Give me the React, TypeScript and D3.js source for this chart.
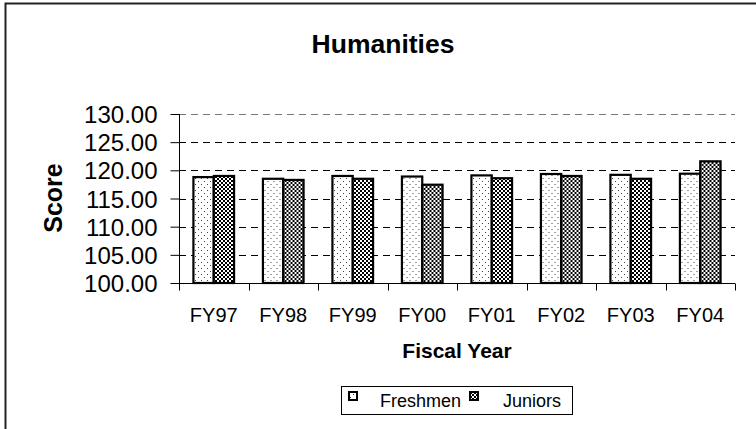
import * as d3 from 'd3';
import React, { useRef, useEffect } from 'react';

const years = ['FY97', 'FY98', 'FY99', 'FY00', 'FY01', 'FY02', 'FY03', 'FY04'];
const freshmen = [118.8, 118.5, 119.0, 118.9, 119.1, 119.35, 119.2, 119.4];
const juniors = [119.0, 118.3, 118.5, 117.45, 118.6, 119.0, 118.5, 121.6];
const seriesNames = ['Freshmen', 'Juniors'];
const yTicks = [100, 105, 110, 115, 120, 125, 130];

const FONT = 'Liberation Sans, Arial, sans-serif';

function Chart({ width, height }) {
  const ref = useRef(null);

  useEffect(() => {
    draw();
  }, []);

  const draw = () => {
    const svg = d3.select(ref.current);
    svg.selectAll('*').remove();

    const left = 179;
    const right = 735;
    const top = 114;
    const bottom = 283;

    // patterns
    const defs = svg.append('defs');
    const dots = defs
      .append('pattern')
      .attr('id', 'pat-fresh')
      .attr('patternUnits', 'userSpaceOnUse')
      .attr('width', 6)
      .attr('height', 6);
    dots.append('rect').attr('width', 6).attr('height', 6).attr('fill', '#fff');
    dots.append('rect').attr('x', 1).attr('y', 1).attr('width', 1).attr('height', 1).attr('fill', '#444');
    dots.append('rect').attr('x', 4).attr('y', 4).attr('width', 1).attr('height', 1).attr('fill', '#444');

    const check = defs
      .append('pattern')
      .attr('id', 'pat-jun')
      .attr('patternUnits', 'userSpaceOnUse')
      .attr('width', 4)
      .attr('height', 4);
    check.append('rect').attr('width', 4).attr('height', 4).attr('fill', '#fff');
    check.append('rect').attr('width', 2).attr('height', 2).attr('fill', '#000');
    check.append('rect').attr('x', 2).attr('y', 2).attr('width', 2).attr('height', 2).attr('fill', '#000');

    const fills = ['url(#pat-fresh)', 'url(#pat-jun)'];

    // outer frame (clipped on the right and bottom)
    svg
      .append('rect')
      .attr('x', 5.5)
      .attr('y', 3.5)
      .attr('width', 800)
      .attr('height', 500)
      .attr('fill', 'none')
      .attr('stroke', '#222')
      .attr('stroke-width', 2);

    const xScale = d3.scaleBand().domain(years).range([left, right]).padding(0);
    const yScale = d3.scaleLinear().domain([100, 130]).range([bottom, top]);

    const groupW = xScale.bandwidth() * 0.585;
    const xSub = d3
      .scaleBand()
      .domain(seriesNames)
      .range([(xScale.bandwidth() - groupW) / 2, (xScale.bandwidth() + groupW) / 2]);

    // gridlines
    svg
      .append('g')
      .selectAll('line')
      .data(yTicks.filter(t => t > 100))
      .enter()
      .append('line')
      .attr('x1', left)
      .attr('x2', right)
      .attr('y1', d => Math.round(yScale(d)) + 0.5)
      .attr('y2', d => Math.round(yScale(d)) + 0.5)
      .attr('stroke', d => (d === 130 ? '#777' : '#000'))
      .attr('stroke-dasharray', '7,5');

    // bars
    const data = years.map((y, i) => ({ year: y, values: [freshmen[i], juniors[i]] }));
    const groups = svg
      .append('g')
      .selectAll('g')
      .data(data)
      .enter()
      .append('g')
      .attr('transform', d => `translate(${xScale(d.year)},0)`);

    groups
      .selectAll('rect')
      .data(d => d.values.map((v, k) => ({ name: seriesNames[k], v, k })))
      .enter()
      .append('rect')
      .attr('x', d => xSub(d.name))
      .attr('width', xSub.bandwidth())
      .attr('y', d => yScale(d.v))
      .attr('height', d => bottom - yScale(d.v))
      .attr('fill', d => fills[d.k])
      .attr('stroke', '#000')
      .attr('stroke-width', 2.2);

    // y axis
    const yAxis = d3.axisLeft(yScale).tickValues(yTicks).tickSize(9).tickFormat(d3.format('.2f'));
    const gy = svg
      .append('g')
      .attr('transform', `translate(${left + 0.5},0)`)
      .call(yAxis);
    gy.select('.domain').remove();
    gy.append('line').attr('y1', top).attr('y2', bottom + 7).attr('stroke', '#000');
    gy.selectAll('.tick line').attr('stroke', '#000');
    gy.selectAll('.tick text')
      .attr('x', -22)
      .attr('dy', '0.36em')
      .attr('fill', '#000')
      .style('font-family', FONT)
      .style('font-size', '24px');

    // x axis
    const xAxis = d3.axisBottom(xScale).tickSize(0);
    const gx = svg
      .append('g')
      .attr('transform', `translate(0,${bottom + 0.5})`)
      .call(xAxis);
    gx.select('.domain').attr('stroke', '#000').attr('d', `M${left},0H${right}`);
    gx.selectAll('.tick text')
      .attr('y', 38)
      .attr('dy', 0)
      .attr('fill', '#000')
      .style('font-family', FONT)
      .style('font-size', '20px');

    gx.selectAll('.sep')
      .data(years.map(y => xScale(y)).concat([right]))
      .enter()
      .append('line')
      .attr('class', 'sep')
      .attr('x1', d => Math.round(d) + 0.5)
      .attr('x2', d => Math.round(d) + 0.5)
      .attr('y1', 0)
      .attr('y2', 7)
      .attr('stroke', '#000');

    // title and axis titles
    svg
      .append('text')
      .attr('x', 383)
      .attr('y', 53)
      .attr('text-anchor', 'middle')
      .style('font-family', FONT)
      .style('font-weight', 'bold')
      .style('font-size', '26.5px')
      .text('Humanities');

    svg
      .append('text')
      .attr('transform', 'translate(62,198) rotate(-90)')
      .attr('text-anchor', 'middle')
      .style('font-family', FONT)
      .style('font-weight', 'bold')
      .style('font-size', '25px')
      .text('Score');

    svg
      .append('text')
      .attr('x', (left + right) / 2)
      .attr('y', 358)
      .attr('text-anchor', 'middle')
      .style('font-family', FONT)
      .style('font-weight', 'bold')
      .style('font-size', '21px')
      .text('Fiscal Year');

    // legend
    const lg = svg.append('g');
    lg.append('rect')
      .attr('x', 341.5)
      .attr('y', 386.5)
      .attr('width', 231)
      .attr('height', 28)
      .attr('fill', '#fff')
      .attr('stroke', '#000');
    const legendX = [349, 470];
    const items = lg
      .selectAll('g')
      .data(seriesNames)
      .enter()
      .append('g')
      .attr('transform', (d, i) => `translate(${legendX[i]},0)`);
    items
      .append('rect')
      .attr('x', 0)
      .attr('y', 392)
      .attr('width', 8)
      .attr('height', 8)
      .attr('fill', (d, i) => fills[i])
      .attr('stroke', '#000')
      .attr('stroke-width', 2);
    items
      .append('text')
      .attr('x', (d, i) => (i === 0 ? 31 : 33))
      .attr('y', 407)
      .style('font-family', FONT)
      .style('font-size', '18px')
      .text(d => d);
  };

  return (
    <svg
      ref={ref}
      width={width}
      height={height}
      style={{ position: 'absolute', left: 0, top: 0, background: '#fff' }}
    />
  );
}

export default function App() {
  return <Chart width={756} height={429} />;
}
